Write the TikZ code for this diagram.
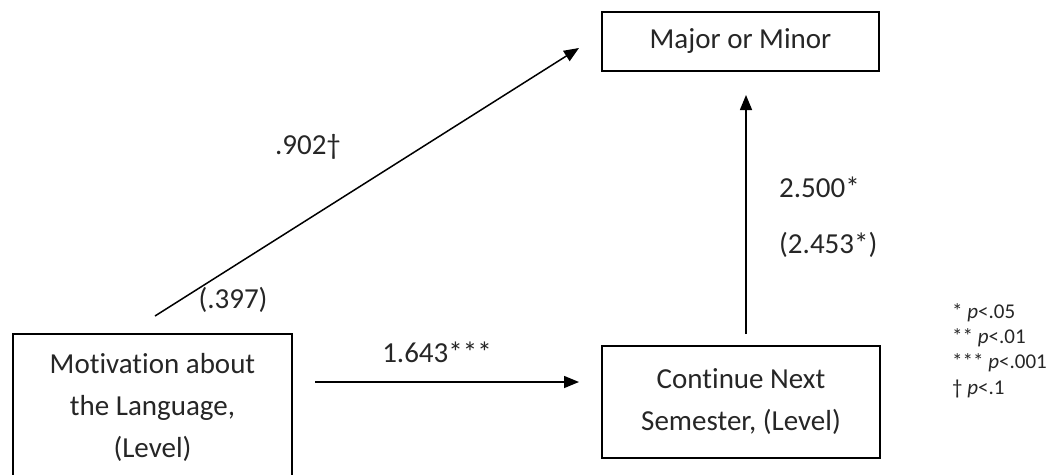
\documentclass[tikz,border=0pt]{standalone}
\usepackage{fontspec}
\setmainfont{Carlito}[Ligatures=NoCommon]
\usetikzlibrary{arrows.meta}
\definecolor{txt}{HTML}{262626}
\begin{document}
\begin{tikzpicture}[x=1pt,y=-1pt,
  box/.style={draw=black,line width=1.5pt,align=center,inner sep=0pt,text=txt,
    font=\fontsize{29}{42}\selectfont},
  lbl/.style={text=txt,inner sep=0pt,font=\fontsize{29}{35}\selectfont},
  leg/.style={text=txt,inner sep=0pt,anchor=west,font=\fontsize{21}{26}\selectfont},
  conn/.style={line width=1.5pt,-{Triangle[length=15pt,width=12pt]}}]
\useasboundingbox (0,0) rectangle (1049,474);
\clip (0,0) rectangle (1049,474);
\node[box,minimum width=279pt,minimum height=146pt] (mot) at (152.5,407) {Motivation about\\the Language,\\(Level)};
\node[box,minimum width=277pt,minimum height=59pt] (maj) at (740.5,41.5) {Major or Minor};
\node[box,minimum width=278pt,minimum height=112pt] (cont) at (741,402) {Continue Next\\Semester, (Level)};
\coordinate (dstart) at (155,316);
\coordinate (dend) at (579,48);
\coordinate (hstart) at (315,382);
\coordinate (hend) at (579,382);
\coordinate (vstart) at (746,334);
\coordinate (vend) at (746,95);
\draw[conn] (dstart) -- (dend);
\draw[conn] (hstart) -- (hend);
\draw[conn] (vstart) -- (vend);
\node[lbl] (l902) at (308,147) {.902†};
\node[lbl] (l397) at (233,300) {(.397)};
\node[lbl] (l1643) at (437,352) {1.643***};
\node[lbl,anchor=west] (l2500) at (779,187) {2.500*};
\node[lbl,anchor=west] (l2453) at (779,245) {(2.453*)};
\node[leg] (g1) at (952,313) {* \textit{p}<.05};
\node[leg] (g2) at (952,338) {** \textit{p}<.01};
\node[leg] (g3) at (952,363) {*** \textit{p}<.001};
\node[leg] (g4) at (952,389) {† \textit{p}<.1};
\end{tikzpicture}
\end{document}
